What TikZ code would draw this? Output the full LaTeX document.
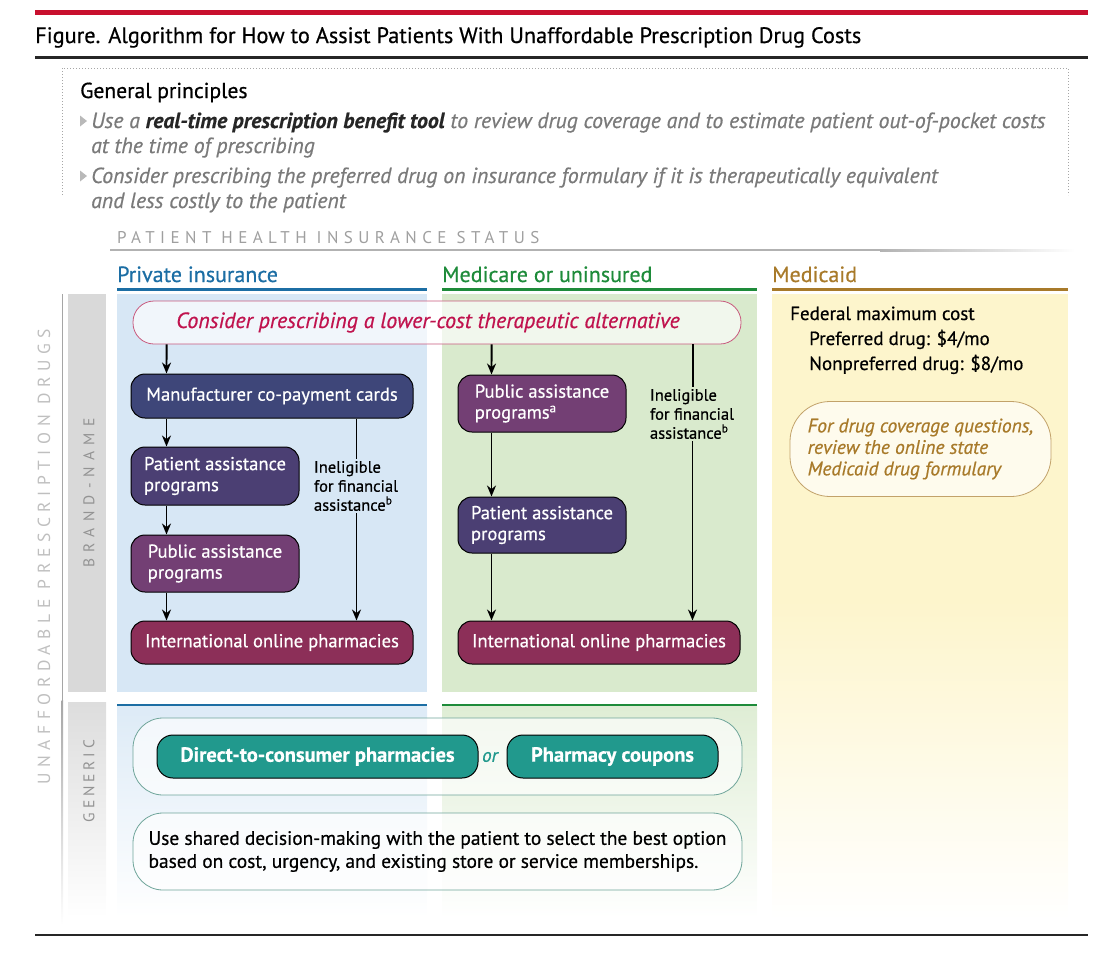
\documentclass[tikz,border=0pt]{standalone}
\usepackage{fontspec}
\setmainfont{PT Sans}[FakeBold=0.6]
\newfontfamily\spaced[LetterSpace=32]{PT Sans}
\newfontfamily\spacedB[LetterSpace=40]{PT Sans}
\newfontfamily\spacedC[LetterSpace=25]{PT Sans}
\usetikzlibrary{arrows.meta,calc}
\definecolor{jred}{HTML}{C8102E}
\definecolor{pblue}{HTML}{1C6EA4}
\definecolor{pgreen}{HTML}{1E8B3A}
\definecolor{pgold}{HTML}{A87A2A}
\definecolor{bgblue}{HTML}{D7E7F5}
\definecolor{bggreen}{HTML}{D9EACD}
\definecolor{bgyellow}{HTML}{FDF5CC}
\definecolor{navy}{HTML}{3E4679}
\definecolor{indigo}{HTML}{4B3F73}
\definecolor{plum}{HTML}{733F74}
\definecolor{rose}{HTML}{8C2F58}
\definecolor{teal}{HTML}{21998D}
\definecolor{tealline}{HTML}{6FA59A}
\definecolor{crimson}{HTML}{C0134E}
\definecolor{pinkline}{HTML}{C85A7E}
\definecolor{txtgray}{HTML}{7A7A7A}
\definecolor{bargray}{HTML}{D9D9D9}
\begin{document}
\begin{tikzpicture}[x=1pt,y=-1pt,
  flowbox/.style={draw=black, line width=1pt, rounded corners=14pt, text=white,
    font=\fontsize{18.6}{21}\selectfont, inner sep=0pt},
  arr/.style={line width=1.9pt, -{Stealth[length=11pt,width=9pt]}},
  plain/.style={line width=1.9pt},
  ineligible/.style={align=left, font=\fontsize{16.5}{19}\selectfont, inner sep=2pt},
  pillbox/.style={rounded corners=#1, fill=white, fill opacity=0.65, text opacity=1, line width=0.8pt, inner sep=0pt},
  bullettext/.style={anchor=base west, inner sep=0pt, text=txtgray, font=\fontsize{21.8}{24}\selectfont\itshape},
]
\useasboundingbox (0,0) rectangle (1116,969);
% top rules and title
\fill[jred] (35,10) rectangle (1088,14.5);
\node[anchor=base west, inner sep=0pt, font=\fontsize{22.3}{26}\selectfont] (title) at (35,43) {Figure. Algorithm for How to Assist Patients With Unaffordable Prescription Drug Costs};
\fill[black!85] (35,56) rectangle (1088,58.5);
% general principles box
\draw[gray!70, dotted, line width=1pt] (62,195) -- (62,68) -- (1068,68) -- (1068,195);
\node[anchor=base west, inner sep=0pt, font=\fontsize{21.6}{24}\selectfont] (gp) at (80,98) {General principles};
\fill[gray!55] (80,115.5) -- (87,121) -- (80,126.5) -- cycle;
\fill[gray!55] (80,170.5) -- (87,176) -- (80,181.5) -- cycle;
\node[bullettext] (b1a) at (91,128) {Use a \textcolor{black!85}{\bfseries real-time prescription benefit tool} to review drug coverage and to estimate patient out-of-pocket costs};
\node[bullettext] (b1b) at (91,153) {at the time of prescribing};
\node[bullettext] (b2a) at (91,183) {Consider prescribing the preferred drug on insurance formulary if it is therapeutically equivalent};
\node[bullettext] (b2b) at (91,208) {and less costly to the patient};
% insurance status header
\node[anchor=base west, inner sep=0pt, text=gray!75, font=\fontsize{17}{19}\spaced] (status) at (117,243) {PATIENT HEALTH INSURANCE STATUS};
\fill[gray!60] (110,249) rectangle (880,251);
\shade[left color=gray!60, right color=white] (880,249) rectangle (1075,251);
% column headers
\node[anchor=base west, inner sep=0pt, text=pblue, font=\fontsize{22}{25}\selectfont] (hpriv) at (117,282) {Private insurance};
\node[anchor=base west, inner sep=0pt, text=pgreen, font=\fontsize{22}{25}\selectfont] (hmed) at (442,282) {Medicare or uninsured};
\node[anchor=base west, inner sep=0pt, text=pgold, font=\fontsize{22}{25}\selectfont] (hmcd) at (772,282) {Medicaid};
\fill[pblue] (117,288) rectangle (427,290.5);
\fill[pgreen] (442,288) rectangle (757,290.5);
\fill[pgold] (772,288) rectangle (1068,290.5);
% backgrounds
\fill[bgblue] (117,294) rectangle (427,692);
\fill[bggreen] (442,294) rectangle (757,692);
\fill[bgyellow] (772,294) rectangle (1068,600);
\shade[top color=bgyellow, bottom color=white] (772,600) rectangle (1068,920);
\fill[pblue] (117,704) rectangle (427,706);
\fill[pgreen] (442,704) rectangle (757,706);
\shade[top color=bgblue!85, bottom color=white] (117,706) rectangle (427,918);
\shade[top color=bggreen!85, bottom color=white] (442,706) rectangle (757,918);
% left bars
\fill[bargray] (68,294) rectangle (106,692);
\shade[top color=bargray!90, bottom color=white] (68,702) rectangle (106,918);
\fill[gray!70] (61.5,294) rectangle (63,700);
\shade[top color=gray!70, bottom color=white] (61.5,700) rectangle (63,925);
\node[rotate=90, text=gray!50, inner sep=0pt, font=\fontsize{17.5}{19}\spaced] (unaff) at (44,557) {UNAFFORDABLE PRESCRIPTION DRUGS};
\node[rotate=90, text=gray!85, inner sep=0pt, font=\fontsize{15.5}{18}\spacedB] (brand) at (89,493) {BRAND-NAME};
\node[rotate=90, text=gray!85, inner sep=0pt, font=\fontsize{15.5}{18}\spacedC] (generic) at (89,781) {GENERIC};
% top pill
\node[pillbox=21pt, draw=pinkline, minimum width=608, minimum height=43, text=crimson, font=\fontsize{22}{24}\selectfont\itshape] (pill) at (437,322.5) {Consider prescribing a lower-cost therapeutic alternative\hspace*{18pt}};
% private insurance column
\node[flowbox, fill=navy, minimum width=282, minimum height=44] (manu) at (272,396) {Manufacturer co-payment cards};
\node[flowbox, fill=indigo, minimum width=168, minimum height=58, align=left] (patL) at (215,476) {Patient assistance\\programs};
\node[flowbox, fill=plum, minimum width=168, minimum height=57, align=left] (pubL) at (215,563.5) {Public assistance\\programs};
\node[flowbox, fill=rose, minimum width=282, minimum height=43] (intL) at (272,642.5) {International online pharmacies};
\node[ineligible] (inelL) at (356,486) {Ineligible\\for financial\\assistance\textsuperscript{b}};
\draw[arr] ($(pill.south west)+(34,0)$) -- ($(manu.north west)+(36,0)$);
\draw[arr] ($(manu.south west)+(36,0)$) -- ($(patL.north west)+(36,0)$);
\draw[arr] ($(patL.south west)+(36,0)$) -- ($(pubL.north west)+(36,0)$);
\draw[arr] ($(pubL.south west)+(36,0)$) -- ($(intL.north west)+(36,0)$);
\draw[plain] ($(manu.south west)+(226,0)$) -- (inelL.north -| {$(manu.south west)+(226,0)$});
\draw[arr] (inelL.south -| {$(intL.north west)+(226,0)$}) -- ($(intL.north west)+(226,0)$);
% medicare column
\node[flowbox, fill=plum, minimum width=168, minimum height=57, align=left] (pubM) at (542,403.5) {Public assistance\\programs\textsuperscript{a}};
\node[flowbox, fill=indigo, minimum width=168, minimum height=56, align=left] (patM) at (542,525) {Patient assistance\\programs};
\node[flowbox, fill=rose, minimum width=282, minimum height=43] (intM) at (599,642.5) {International online pharmacies};
\node[ineligible] (inelM) at (692,414) {Ineligible\\for financial\\assistance\textsuperscript{b}};
\draw[arr] ($(pill.south west)+(359,0)$) -- ($(pubM.north west)+(34,0)$);
\draw[arr] ($(pubM.south west)+(34,0)$) -- ($(patM.north west)+(34,0)$);
\draw[arr] ($(patM.south west)+(34,0)$) -- ($(intM.north west)+(34,0)$);
\draw[plain] ($(pill.south west)+(560,0)$) -- (inelM.north -| {$(pill.south west)+(560,0)$});
\draw[arr] (inelM.south -| {$(intM.north west)+(235,0)$}) -- ($(intM.north west)+(235,0)$);
% medicaid column
\node[anchor=base west, inner sep=0pt, font=\fontsize{19}{21}\selectfont] (fed) at (790,320) {Federal maximum cost};
\node[anchor=base west, inner sep=0pt, font=\fontsize{19}{21}\selectfont] (pref) at (809,345) {Preferred drug: \$4/mo};
\node[anchor=base west, inner sep=0pt, font=\fontsize{19}{21}\selectfont] (nonpref) at (809,370) {Nonpreferred drug: \$8/mo};
\node[pillbox=40pt, draw=pgold!70, minimum width=261, minimum height=95, text=pgold, align=left, font=\fontsize{19.5}{21.5}\selectfont\itshape] (mcdpill) at (920.5,449) {For drug coverage questions,\\review the online state\\Medicaid drug formulary};
% generic section
\node[pillbox=30pt, draw=tealline, minimum width=609, minimum height=77] (gen1) at (437.5,756.5) {};
\node[flowbox, fill=teal, rounded corners=16pt, minimum width=321, minimum height=43, font=\fontsize{20.5}{22}\selectfont\bfseries] (dtc) at (317.5,756.5) {Direct-to-consumer pharmacies};
\node[flowbox, fill=teal, rounded corners=16pt, minimum width=211, minimum height=43, font=\fontsize{20.5}{22}\selectfont\bfseries] (coup) at (612.5,756.5) {Pharmacy coupons};
\node[text=teal, inner sep=0pt, font=\fontsize{19}{21}\selectfont\itshape] (or) at (490,757) {or};
\node[pillbox=30pt, draw=tealline, minimum width=609, minimum height=77, align=left, font=\fontsize{19.4}{23}\selectfont] (gen2) at (437.5,851.5) {Use shared decision-making with the patient to select the best option\\based on cost, urgency, and existing store or service memberships.\hspace*{-8pt}};
% bottom rule
\fill[black!85] (35,933.5) rectangle (1088,936);
\end{tikzpicture}
\end{document}
